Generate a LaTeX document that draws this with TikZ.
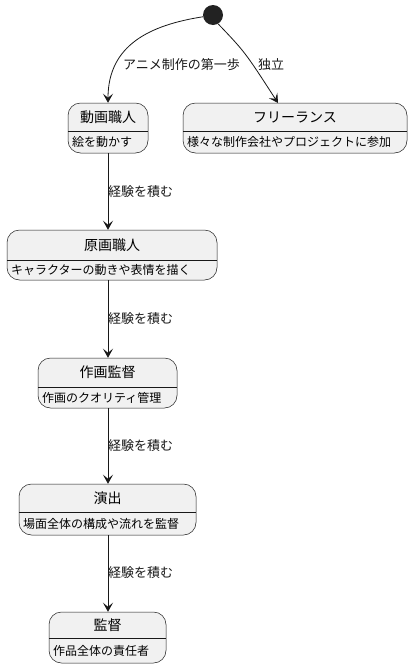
\documentclass[tikz,border=0pt]{standalone}
\usepackage{fontspec}
\setmainfont{Noto Sans CJK JP}
\usetikzlibrary{arrows.meta}
\definecolor{boxfill}{HTML}{F1F1F1}
\definecolor{boxline}{HTML}{181818}
\definecolor{initfill}{HTML}{222222}
\tikzset{
  stbox/.style={draw=boxline, line width=0.5pt, fill=boxfill, rounded corners=12.5pt, inner sep=0pt},
  divline/.style={draw=boxline, line width=0.5pt},
  titletext/.style={font=\fontsize{14}{16}\selectfont, inner sep=0pt},
  bodytext/.style={font=\fontsize{12}{14}\selectfont, inner sep=0pt, anchor=west},
  lbl/.style={font=\fontsize{13}{15}\selectfont, inner sep=0pt, anchor=west, text=boxline},
  arr/.style={draw=boxline, line width=0.8pt, -{Stealth[length=9pt,width=10pt,inset=4pt]}},
}
\newcommand\stbox[8]{%
  \node[stbox, minimum width={#4-#2}, minimum height={#5-#3}] (#1) at ({(#2+#4)/2},{(#3+#5)/2}) {};
  \draw[divline] (#2,#6) -- (#4,#6);
  \node[titletext] (#1-t) at ({(#2+#4)/2},{(#3+#6)/2}) {#7};
  \node[bodytext] (#1-b) at (#2+4,{(#6+#5)/2}) {#8};
}
\begin{document}
\begin{tikzpicture}[x=1pt,y=-1pt]
\useasboundingbox (0,0) rectangle (412,667);
\node[circle, fill=initfill, minimum size=20pt, inner sep=0pt] (init) at (213,15) {};
\stbox{douga}{68}{103}{148}{153}{131}{動画職人}{絵を動かす}
\stbox{free}{183}{103}{407}{153}{131}{フリーランス}{様々な制作会社やプロジェクトに参加}
\stbox{genga}{7}{230}{217}{280}{260}{原画職人}{キャラクターの動きや表情を描く}
\stbox{sakuga}{38}{358}{177}{408}{387}{作画監督}{作画のクオリティ管理}
\stbox{ensyutu}{19}{484}{196}{535}{512}{演出}{場面全体の構成や流れを監督}
\stbox{kantoku}{49}{612}{166}{663}{638}{監督}{作品全体の責任者}
\coordinate (freetop) at (278,103);
\draw[arr] (init.190) .. controls (150,25) and (108,45) .. (douga.north);
\draw[arr] (init.300) .. controls (245,52) .. (freetop);
\node[lbl] (l0) at (123,65) {アニメ制作の第一歩};
\node[lbl] (l1) at (258,65) {独立};
\draw[arr] (douga.south) -- (douga.south |- genga.north);
\node[lbl] (l2) at (108,192) {経験を積む};
\draw[arr] (douga.south |- genga.south) -- (douga.south |- sakuga.north);
\node[lbl] (l3) at (108,319) {経験を積む};
\draw[arr] (douga.south |- sakuga.south) -- (douga.south |- ensyutu.north);
\node[lbl] (l4) at (108,446) {経験を積む};
\draw[arr] (douga.south |- ensyutu.south) -- (douga.south |- kantoku.north);
\node[lbl] (l5) at (108,573) {経験を積む};
\end{tikzpicture}
\end{document}
